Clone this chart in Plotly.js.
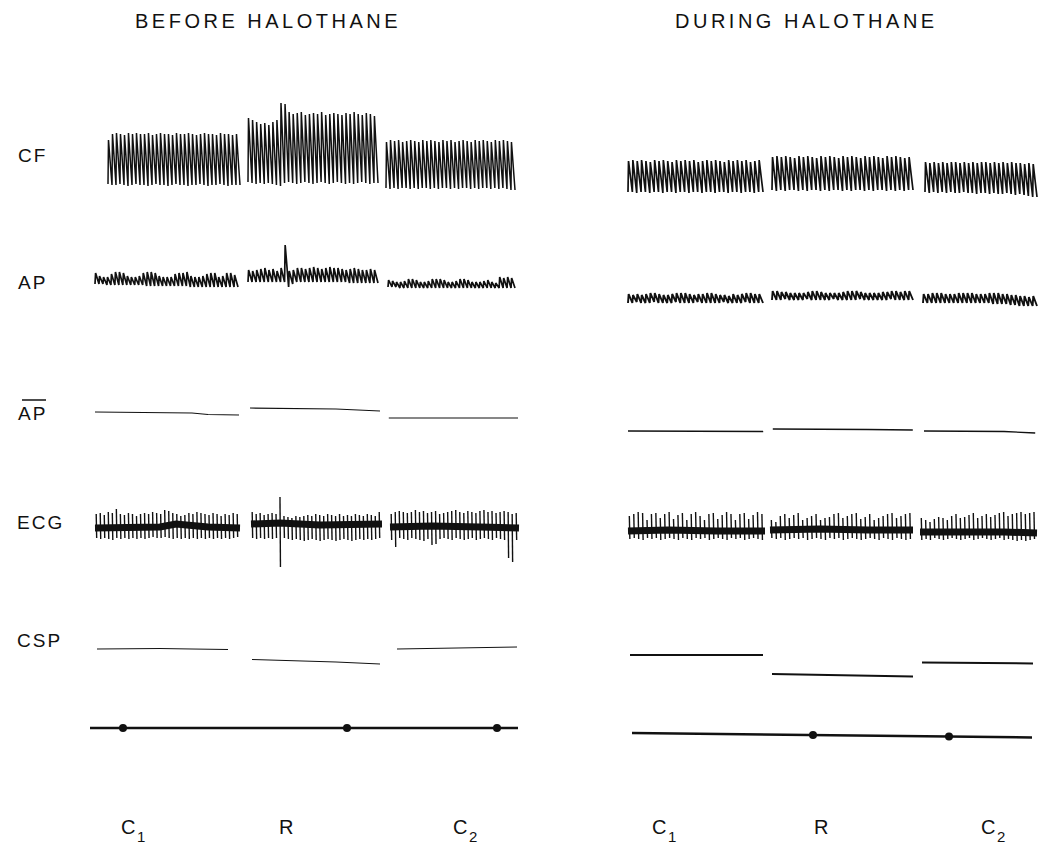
<!DOCTYPE html>
<html>
<head>
<meta charset="utf-8">
<script src="https://cdn.plot.ly/plotly-3.0.1.min.js"></script>
<style>html,body{margin:0;padding:0;background:#fff}#chart{width:1047px;height:868px}</style>
</head>
<body>
<div id="chart"></div>
<script>
// ---------------- DATA (time in s, signals in arbitrary recorder units) ----------------
const panelTitles = ['BEFORE HALOTHANE', 'DURING HALOTHANE'];
const rowLabels = ['CF', 'AP', 'AP', 'ECG', 'CSP'];
const segmentLetters = ['C', 'R', 'C'];
const segmentSubscripts = ['1', '', '2'];

// Coronary flow (CF) – per-beat peaks and troughs, three segments per panel
const cfBeforeStart = [3.5, 21.0, 38.25];
const cfBeforeEnd = [20.0, 37.25, 54.375];
const cfBeforePeaks = [
  [60,66,67,66,65,67,66,67,66,66,67,65,66,67,66,66,65,67,66,66,67,66,65,66,67,66,66,65,67,66,66,65,66],
  [82,80,78,76,77,75,78,80,97,96,88,86,87,88,85,86,87,86,88,85,86,87,86,85,87,86,88,86,85,87,86,84],
  [58,60,59,60,58,59,60,59,58,60,59,60,59,58,60,59,60,58,59,60,59,58,60,59,60,59,58,60,59,60,59,58]
];
const cfBeforeTroughs = [
  [16,15,15,16,15,14,15,16,15,15,14,15,16,15,15,14,15,16,15,15,14,15,15,16,15,14,15,15,16,15,14,15,15],
  [18,17,16,17,16,17,16,15,14,17,18,17,16,17,18,17,16,17,18,17,16,17,18,17,16,17,16,17,18,17,16,17],
  [12,11,12,11,12,12,11,12,11,12,12,11,12,11,12,12,11,12,11,12,12,11,12,11,12,12,11,12,11,12,11,10]
];
const cfDuringStart = [1.0, 19.0, 38.125];
const cfDuringEnd = [17.875, 36.625, 52.125];
const cfDuringPeaks = [
  [39,40,39,40,39,38,40,39,40,39,38,40,39,40,39,40,38,39,40,39,40,39,38,40,39,40,39,40,38,39,40],
  [43,44,43,44,43,42,44,43,44,43,42,44,43,44,43,42,44,43,44,43,42,44,43,44,43,42,44,43,44,43,42,43],
  [38,37,38,37,38,37,38,38,37,38,37,38,37,38,38,37,38,37,38,37,38,37,37,36,37,36]
];
const cfDuringTroughs = [
  [8,8,7,8,8,7,8,8,7,8,8,7,8,8,7,8,8,7,8,8,7,8,8,7,8,8,7,8,8,7,8],
  [10,9,10,9,10,10,9,10,9,10,10,9,10,9,10,10,9,10,9,10,10,9,10,9,10,10,9,10,9,10,9,10],
  [8,7,8,7,8,7,8,7,7,8,7,7,6,7,7,6,7,6,6,7,6,5,6,5,4,3]
];

// Arterial pressure (AP)
const apBeforeStart = [1.875, 21.0, 38.5];
const apBeforeEnd = [19.75, 37.25, 54.375];
const apBeforePeaks = [
  [42,39,38,38,41,43,43,42,39,38,38,39,42,43,43,42,39,38,38,38,41,42,42,43,39,38,38,39,41,42,42,38,39,42,42,40],
  [45,44,45,46,47,45,46,44,47,70,44,45,47,47,46,47,48,47,46,47,48,47,47,46,45,46,47,46,45,45,46,45],
  [35,34,33,33,34,36,36,35,33,33,34,36,36,36,35,33,33,34,36,36,35,33,33,33,34,35,33,32,38,37,38,37]
];
const apBeforeTroughs = [
  [31,31,31,30,30,30,30,30,30,30,30,30,30,29,29,29,29,29,29,29,29,29,29,29,28,28,28,28,28,28,28,28,28,28,28,28],
  [33,33,33,33,33,33,33,33,33,33,28,31,33,33,33,33,33,33,33,33,33,33,33,33,33,32,32,32,32,32,32,32],
  [28,28,28,27,27,27,27,27,27,27,27,27,27,27,27,27,27,27,27,27,27,27,27,27,27,27,27,27,27,27,27,27]
];
const apDuringStart = [1.0, 19.0, 37.875];
const apDuringEnd = [17.875, 36.625, 52.125];
const apDuringPeaks = [
  [21,20,21,20,21,22,22,21,20,20,21,22,22,22,21,20,21,21,22,22,21,20,20,19,21,20,21,22,22,21,21],
  [24,24,23,23,22,22,22,22,23,24,24,23,22,22,22,22,23,24,24,24,23,22,22,22,22,23,23,24,24,23,24,24],
  [21,21,22,22,22,21,21,21,22,22,22,22,21,21,21,22,22,22,21,21,20,20,19,19,18,19]
];
const apDuringTroughs = [
  [12,12,13,12,12,12,13,12,12,12,12,13,12,12,12,12,13,12,12,12,12,12,13,12,12,12,12,13,12,12,12],
  [15,15,15,16,15,15,15,15,16,15,15,15,15,15,16,15,15,15,15,15,16,15,15,15,15,15,15,16,15,15,15,15],
  [12,12,12,12,12,12,12,12,12,12,12,12,12,12,12,12,11,11,11,11,10,10,9,9,9,9]
];

// Mean arterial pressure (AP with bar) – readings along each segment
const mapBeforeTimes = [[1.875, 8, 14, 16, 19.875], [21.25, 27, 32, 37.5], [38.6, 44, 50, 54.75]];
const mapBeforeValues = [[33, 32.5, 32, 30.5, 30], [37, 36.5, 36, 34], [27, 27, 27.5, 27]];
const mapDuringTimes = [[1.0, 6, 12, 17.9], [19.1, 25, 31, 36.6], [38.0, 43, 48, 51.9]];
const mapDuringValues = [[14, 14, 14, 13.5], [16, 16, 15.5, 15], [14, 14, 13.5, 12]];

// ECG – per-beat R (up) and S (down) deflections, plus baseline band readings
const ecgBeforeStart = [1.875, 21.375, 38.75];
const ecgBeforeEnd = [20.0, 37.75, 54.875];
const ecgBeforeUp = [
  [66,67,65,68,67,71,66,65,67,66,64,66,67,66,68,67,66,70,69,67,66,64,65,67,66,68,67,66,65,67,66,64,66,65,67,66],
  [68,66,67,65,66,67,66,83,64,63,62,64,63,64,65,64,66,65,64,66,65,64,66,64,65,64,66,65,64,66,65,64,68],
  [66,68,69,68,67,68,70,68,69,67,68,69,66,67,68,69,70,68,67,69,68,67,69,70,68,69,67,68,69,68,66,67]
];
const ecgBeforeDown = [
  [42,41,42,41,40,42,41,42,41,42,41,42,41,42,43,42,42,43,42,41,42,41,42,41,42,41,42,41,42,41,42,41,42,41,42,43],
  [42,41,42,41,42,41,42,13,42,41,40,41,40,39,40,41,40,39,40,41,40,39,40,41,40,39,40,41,40,41,40,41,42],
  [40,33,42,41,40,42,41,40,39,41,35,36,41,42,41,40,42,41,40,41,42,40,41,42,41,40,42,41,40,22,18,40]
];
const ecgBeforeBandTimes = [[1.875, 6, 10, 12, 16, 20], [21.375, 25, 30, 37.75], [38.75, 44, 50, 54.875]];
const ecgBeforeBandValues = [[52, 53, 53, 56, 53, 52], [56, 57, 55, 56], [53, 54, 53, 52]];
const ecgDuringStart = [1.0, 18.75, 37.5];
const ecgDuringEnd = [18.125, 36.625, 52.125];
const ecgDuringUp = [
  [64,66,68,67,60,66,67,62,66,68,61,65,67,60,66,68,64,60,66,67,61,65,68,66,60,66,67,61,65,68,66],
  [60,58,64,66,62,65,67,60,62,64,66,60,62,63,66,67,62,64,66,67,61,63,66,60,62,64,66,67,62,64,66,67],
  [62,60,58,61,63,62,60,64,66,62,63,65,67,62,64,66,63,65,67,68,64,66,67,68,66,67,68]
];
const ecgDuringDown = [
  [41,42,41,40,42,41,42,40,41,42,41,40,42,41,40,42,41,42,40,41,42,41,40,42,41,42,40,41,42,41,40],
  [42,41,42,40,41,42,41,42,40,41,42,41,40,42,41,42,40,41,42,41,40,41,42,41,40,42,41,40,42,41,40,41],
  [40,41,40,42,41,40,41,42,41,40,41,42,40,41,42,41,40,41,42,40,41,40,39,40,39,40,41]
];
const ecgDuringBandTimes = [[1, 6, 12, 18.125], [18.75, 25, 31, 36.625], [37.5, 44, 48, 52.125]];
const ecgDuringBandValues = [[49, 50, 49, 49], [50, 51, 50, 50], [48, 49, 48, 47]];

// Coronary sinus pressure (CSP)
const cspBeforeTimes = [[2.125, 10, 14, 18.5], [21.5, 27, 32, 37.5], [39.625, 45, 50, 54.625]];
const cspBeforeValues = [[41, 41.5, 41, 40.5], [30.5, 29.5, 28, 26], [41, 41.5, 42, 43]];
const cspDuringTimes = [[1.25, 7, 12, 17.875], [19, 25, 31, 36.625], [37.75, 43, 48, 51.625]];
const cspDuringValues = [[35, 35, 35.5, 35], [16, 15, 14.5, 13.5], [27.5, 27, 27, 26.5]];

// Time / event marker line
const markerBeforeTimes = [1.25, 5.375, 20, 33.375, 52.125, 54.75];
const markerBeforeValues = [17, 17, 17, 17, 17, 17];
const markerBeforeDotTimes = [5.375, 33.375, 52.125];
const markerBeforeDotValues = [17, 17, 17];
const markerDuringTimes = [1.5, 24.125, 41.125, 51.5];
const markerDuringValues = [12, 10, 8.5, 7.5];
const markerDuringDotTimes = [24.125, 41.125];
const markerDuringDotValues = [10, 8.5];

// ---------------- LAYOUT GEOMETRY ----------------
const W = 1047, H = 868;
const INK = '#111';
const FONT = 'Liberation Sans, Arial, sans-serif';
const rows = [ // [top px, bottom px]
  [90, 200], [235, 315], [390, 445], [480, 580], [630, 690], [715, 745]
];

function pulseTrace(starts, ends, peaks, troughs, rise, xa, ya, width) {
  const x = [], y = [];
  for (let s = 0; s < starts.length; s++) {
    const n = peaks[s].length, dt = (ends[s] - starts[s]) / n;
    for (let i = 0; i < n; i++) {
      x.push(starts[s] + i * dt, starts[s] + (i + rise) * dt);
      y.push(troughs[s][i], peaks[s][i]);
    }
    x.push(ends[s]); y.push(troughs[s][n - 1]);
    x.push(null); y.push(null);
  }
  return {type: 'scatter', mode: 'lines', x, y, xaxis: xa, yaxis: ya,
    line: {color: INK, width: width}, hoverinfo: 'skip', connectgaps: false};
}
function spikeTrace(starts, ends, ups, downs, xa, ya, width) {
  const x = [], y = [];
  for (let s = 0; s < starts.length; s++) {
    const n = ups[s].length, dt = (ends[s] - starts[s]) / n;
    for (let i = 0; i < n; i++) {
      const t = starts[s] + (i + 0.3) * dt;
      x.push(t, t + 0.12 * dt, null);
      y.push(ups[s][i], downs[s][i], null);
    }
  }
  return {type: 'scatter', mode: 'lines', x, y, xaxis: xa, yaxis: ya,
    line: {color: INK, width: width}, hoverinfo: 'skip', connectgaps: false};
}
function segLines(times, values, xa, ya, width) {
  const x = [], y = [];
  for (let s = 0; s < times.length; s++) {
    x.push(...times[s], null); y.push(...values[s], null);
  }
  return {type: 'scatter', mode: 'lines', x, y, xaxis: xa, yaxis: ya,
    line: {color: INK, width: width}, hoverinfo: 'skip', connectgaps: false};
}

const traces = [
  pulseTrace(cfBeforeStart, cfBeforeEnd, cfBeforePeaks, cfBeforeTroughs, 0.12, 'x', 'y', 1.5),
  pulseTrace(cfDuringStart, cfDuringEnd, cfDuringPeaks, cfDuringTroughs, 0.12, 'x2', 'y', 1.7),
  pulseTrace(apBeforeStart, apBeforeEnd, apBeforePeaks, apBeforeTroughs, 0.15, 'x', 'y2', 1.7),
  pulseTrace(apDuringStart, apDuringEnd, apDuringPeaks, apDuringTroughs, 0.15, 'x2', 'y2', 1.9),
  segLines(mapBeforeTimes, mapBeforeValues, 'x', 'y3', 1.2),
  segLines(mapDuringTimes, mapDuringValues, 'x2', 'y3', 1.3),
  segLines(ecgBeforeBandTimes, ecgBeforeBandValues, 'x', 'y4', 7),
  segLines(ecgDuringBandTimes, ecgDuringBandValues, 'x2', 'y4', 7),
  spikeTrace(ecgBeforeStart, ecgBeforeEnd, ecgBeforeUp, ecgBeforeDown, 'x', 'y4', 1.4),
  spikeTrace(ecgDuringStart, ecgDuringEnd, ecgDuringUp, ecgDuringDown, 'x2', 'y4', 1.4),
  segLines(cspBeforeTimes, cspBeforeValues, 'x', 'y5', 1.0),
  segLines(cspDuringTimes, cspDuringValues, 'x2', 'y5', 2.0),
  {type: 'scatter', mode: 'lines', x: markerBeforeTimes, y: markerBeforeValues, xaxis: 'x', yaxis: 'y6',
    line: {color: INK, width: 2.5}, hoverinfo: 'skip'},
  {type: 'scatter', mode: 'lines', x: markerDuringTimes, y: markerDuringValues, xaxis: 'x2', yaxis: 'y6',
    line: {color: INK, width: 2.5}, hoverinfo: 'skip'},
  {type: 'scatter', mode: 'markers', x: markerBeforeDotTimes, y: markerBeforeDotValues, xaxis: 'x', yaxis: 'y6',
    marker: {color: INK, size: 8}, hoverinfo: 'skip'},
  {type: 'scatter', mode: 'markers', x: markerDuringDotTimes, y: markerDuringDotValues, xaxis: 'x2', yaxis: 'y6',
    marker: {color: INK, size: 8}, hoverinfo: 'skip'}
];

const hidden = {visible: false, showgrid: false, zeroline: false, fixedrange: true};
const layout = {
  width: W, height: H,
  margin: {l: 0, r: 0, t: 0, b: 0},
  paper_bgcolor: '#fff', plot_bgcolor: 'rgba(0,0,0,0)',
  showlegend: false,
  xaxis: Object.assign({domain: [80 / W, 530 / W], range: [0, 56.25]}, hidden),
  xaxis2: Object.assign({domain: [620 / W, 1045 / W], range: [0, 53.125]}, hidden),
  annotations: [],
  shapes: []
};
rows.forEach((r, i) => {
  const key = i === 0 ? 'yaxis' : 'yaxis' + (i + 1);
  layout[key] = Object.assign({domain: [1 - r[1] / H, 1 - r[0] / H], range: [0, r[1] - r[0]], anchor: 'x'}, hidden);
});

const spacing = []; // letter spacing per annotation index
function ann(text, px, py, size, xanchor, ls) {
  spacing.push(ls || 0);
  layout.annotations.push({
    text: text, xref: 'paper', yref: 'paper', x: px / W, y: 1 - py / H,
    xanchor: xanchor || 'center', yanchor: 'middle', showarrow: false, borderpad: 0,
    font: {family: FONT, size: size, color: INK}
  });
}
// panel titles
ann(panelTitles[0], 268, 21, 20, 'center', 3.5);
ann(panelTitles[1], 806, 21, 20, 'center', 3.5);
// row labels
const rowLabelY = [155, 282, 413, 522, 640];
rowLabels.forEach((t, i) => ann(t, 19, rowLabelY[i], 19, 'left', 2));
layout.shapes.push({type: 'line', xref: 'paper', yref: 'paper', x0: 22 / W, x1: 46 / W,
  y0: 1 - 400 / H, y1: 1 - 400 / H, line: {color: INK, width: 1.5}});
// segment labels (letter plus lowered subscript)
const segX = [[136, 286, 468], [667, 821, 996]];
segX.forEach(row => row.forEach((px, i) => {
  if (segmentSubscripts[i]) {
    ann(segmentLetters[i], px, 827, 20, 'right', 0);
    ann(segmentSubscripts[i], px, 836, 15, 'left', 0);
  } else {
    ann(segmentLetters[i], px, 827, 20, 'center', 0);
  }
}));

Plotly.newPlot('chart', traces, layout, {staticPlot: true, displayModeBar: false}).then(gd => {
  gd.querySelectorAll('g.annotation').forEach(g => {
    const idx = +g.getAttribute('data-index');
    const t = g.querySelector('text.annotation-text');
    if (t && spacing[idx]) t.style.letterSpacing = spacing[idx] + 'px';
  });
});
</script>
</body>
</html>
